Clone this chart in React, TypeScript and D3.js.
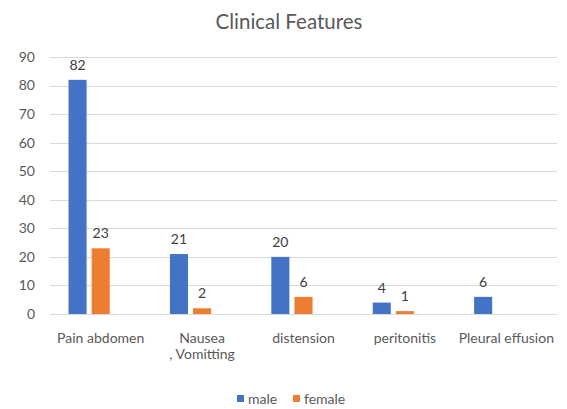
import React, { useEffect, useRef } from 'react';
import * as d3 from 'd3';

// Clinical features by sex
const categories = ['Pain abdomen', 'Nausea , Vomitting', 'distension', 'peritonitis', 'Pleural effusion'];
const categoryLines = [['Pain abdomen'], ['Nausea', ', Vomitting'], ['distension'], ['peritonitis'], ['Pleural effusion']];
const maleValues = [82, 21, 20, 4, 6];
const femaleValues: (number | null)[] = [23, 2, 6, 1, null];
const seriesNames = ['male', 'female'];
const yTicks = [0, 10, 20, 30, 40, 50, 60, 70, 80, 90];

const COLORS: Record<string, string> = { male: '#4472C4', female: '#ED7D31' };
const FONT = 'Lato, "Open Sans", sans-serif';
const TEXT = '#595959';

export default function App() {
  const svgRef = useRef<SVGSVGElement>(null);

  useEffect(() => {
    const width = 567;
    const height = 409;
    const margin = { top: 57, right: 10, bottom: 95, left: 50 };
    const innerW = width - margin.left - margin.right;
    const innerH = height - margin.top - margin.bottom;

    const svg = d3.select(svgRef.current);
    svg.selectAll('*').remove();
    svg.attr('width', width).attr('height', height);

    svg.append('rect').attr('width', width).attr('height', height).attr('fill', '#fff');

    // Title
    svg.append('text').attr('x', 289).attr('y', 29).attr('text-anchor', 'middle')
      .attr('fill', TEXT).attr('font-size', '20.5px').attr('font-family', FONT)
      .text('Clinical Features');

    const g = svg.append('g').attr('transform', `translate(${margin.left},${margin.top})`);

    const x0 = d3.scaleBand().domain(categories).range([0, innerW]).paddingInner(0).paddingOuter(0);
    // third blank slot, as Excel keeps room for an empty series
    const x1 = d3.scaleBand().domain(['male', 'female', '_blank']).range([0, x0.bandwidth()])
      .paddingInner(0.22).paddingOuter(0.8);
    const y = d3.scaleLinear().domain([0, 90]).range([innerH, 0]);

    // Grid
    g.append('g').selectAll('line').data(yTicks).join('line')
      .attr('x1', 0).attr('x2', innerW)
      .attr('y1', d => Math.round(y(d)) + 0.5).attr('y2', d => Math.round(y(d)) + 0.5)
      .attr('stroke', '#d9d9d9').attr('stroke-width', 1);

    // Y tick labels
    g.append('g').selectAll('text').data(yTicks).join('text')
      .attr('x', -15).attr('y', d => y(d)).attr('dy', '0.35em').attr('text-anchor', 'end')
      .attr('fill', TEXT).attr('font-size', '14px').attr('font-family', FONT)
      .text(d => d);

    const rows = categories.map((c, i) => ({ cat: c, i, male: maleValues[i], female: femaleValues[i] }));

    seriesNames.forEach(s => {
      const pts = rows
        .map(r => ({ cat: r.cat, v: (r as any)[s] as number | null }))
        .filter(p => p.v != null) as { cat: string; v: number }[];

      g.append('g').selectAll('rect').data(pts).join('rect')
        .attr('x', d => (x0(d.cat) as number) + (x1(s) as number))
        .attr('y', d => y(d.v))
        .attr('width', x1.bandwidth())
        .attr('height', d => innerH - y(d.v))
        .attr('fill', COLORS[s]);

      g.append('g').selectAll('text').data(pts).join('text')
        .attr('x', d => (x0(d.cat) as number) + (x1(s) as number) + x1.bandwidth() / 2)
        .attr('y', d => y(d.v) - 10)
        .attr('text-anchor', 'middle')
        .attr('fill', '#404040').attr('font-size', '14px').attr('font-family', FONT)
        .text(d => d.v);
    });

    // Category labels
    const catG = g.append('g').selectAll('text').data(categories).join('text')
      .attr('x', d => (x0(d) as number) + x0.bandwidth() / 2)
      .attr('y', innerH + 29)
      .attr('text-anchor', 'middle')
      .attr('fill', TEXT).attr('font-size', '14px').attr('font-family', FONT);
    catG.each(function (d, i) {
      const el = d3.select(this);
      categoryLines[i].forEach((line, j) => {
        el.append('tspan').attr('x', (x0(d) as number) + x0.bandwidth() / 2)
          .attr('dy', j === 0 ? 0 : 16).text(line);
      });
    });

    // Legend
    const legend = svg.append('g').attr('transform', 'translate(237,404)');
    const items = [{ name: 'male', x: 0 }, { name: 'female', x: 56 }];
    items.forEach(it => {
      legend.append('rect').attr('x', it.x).attr('y', -9).attr('width', 7).attr('height', 7)
        .attr('fill', COLORS[it.name]);
      legend.append('text').attr('x', it.x + 11).attr('y', 0)
        .attr('fill', TEXT).attr('font-size', '14px').attr('font-family', FONT)
        .text(it.name);
    });
  }, []);

  return (
    <div style={{ position: 'absolute', left: 0, top: 0 }}>
      <svg ref={svgRef} style={{ display: 'block' }} />
    </div>
  );
}
